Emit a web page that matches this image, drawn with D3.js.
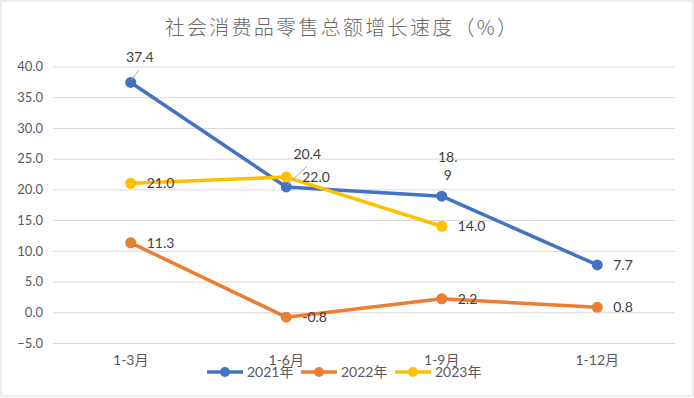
<!DOCTYPE html>
<html><head><meta charset="utf-8">
<script src="https://cdn.jsdelivr.net/npm/d3@7"></script>
<style>
html,body{margin:0;padding:0;background:#fff;}
svg{display:block;}
</style></head>
<body>
<script>
const categories = ["1-3月", "1-6月", "1-9月", "1-12月"];
const seriesNames = ["2021年", "2022年", "2023年"];
const values2021 = [37.4, 20.4, 18.9, 7.7];
const values2022 = [11.3, -0.8, 2.2, 0.8];
const values2023 = [21.0, 22.0, 14.0];
const yTicks = [-5, 0, 5, 10, 15, 20, 25, 30, 35, 40];
const title = "社会消费品零售总额增长速度（%）";

const colors = ["#4472C4", "#ED7D31", "#FFC000"];
const seriesValues = [values2021, values2022, values2023];
// label placement styles (not data): "r" = right of point, others custom
const labelPlacement = [
  ["above", "upright", "wrap", "r"],
  ["r", "r", "r", "r"],
  ["r", "r", "r"]
];

const W = 694, H = 398;
const svg = d3.select("body").append("svg").attr("width", W).attr("height", H);
const numFont = "Lato, 'Noto Sans CJK SC', sans-serif";

svg.append("rect").attr("x", 1).attr("y", 1).attr("width", W - 2).attr("height", H - 3)
  .attr("fill", "#fff").attr("stroke", "#d9d9d9").attr("stroke-width", 1);

svg.append("text").attr("x", 342).attr("y", 35).attr("text-anchor", "middle")
  .attr("font-family", "'Noto Sans CJK SC', sans-serif").attr("font-size", 20).attr("font-weight", 300)
  .attr("letter-spacing", 2.3).attr("fill", "#6b6b6b").text(title);

const x = d3.scaleBand().domain(categories).range([53, 675]);
const cx = c => x(c) + x.bandwidth() / 2;
const y = d3.scaleLinear().domain([-5, 40]).range([343, 66.5]);

// grid
const grid = svg.append("g").attr("transform", "translate(53,0)")
  .call(d3.axisLeft(y).tickValues(yTicks).tickSize(-622).tickFormat(""));
grid.select(".domain").remove();
grid.selectAll("line").attr("stroke", "#d9d9d9").attr("stroke-width", 1);

// y labels
const yAxis = svg.append("g").attr("transform", "translate(53,0)")
  .call(d3.axisLeft(y).tickValues(yTicks).tickSize(0).tickPadding(10).tickFormat(d3.format(".1f")));
yAxis.select(".domain").remove();
yAxis.selectAll("text").attr("font-family", numFont).attr("font-size", 13).attr("fill", "#595959");

// x labels
const xAxis = svg.append("g").attr("transform", "translate(0,343)")
  .call(d3.axisBottom(x).tickSize(0).tickPadding(12));
xAxis.select(".domain").remove();
xAxis.selectAll("text").attr("font-family", numFont).attr("font-size", 14).attr("fill", "#595959");

// lines
const line = d3.line().x((d, i) => cx(categories[i])).y(d => y(d));
seriesValues.forEach((vals, s) => {
  const g = svg.append("g");
  g.append("path").datum(vals).attr("d", line).attr("fill", "none")
    .attr("stroke", colors[s]).attr("stroke-width", 3.5).attr("stroke-linejoin", "round").attr("stroke-linecap", "round");
});
seriesValues.forEach((vals, s) => {
  svg.append("g").selectAll("circle").data(vals).join("circle")
    .attr("cx", (d, i) => cx(categories[i])).attr("cy", d => y(d)).attr("r", 5.5)
    .attr("fill", colors[s]);
});

// data labels
const lab = svg.append("g").attr("font-family", numFont).attr("font-size", 14).attr("fill", "#404040");
seriesValues.forEach((vals, s) => {
  vals.forEach((v, i) => {
    const px = cx(categories[i]), py = y(v);
    const txt = v.toFixed(1);
    const p = labelPlacement[s][i];
    if (p === "r") {
      lab.append("text").attr("x", px + 16).attr("y", py).attr("dy", "0.35em").text(txt);
    } else if (p === "above") {
      svg.append("line").attr("x1", px + 1).attr("y1", py - 3).attr("x2", px + 8).attr("y2", py - 12)
        .attr("stroke", "#a6a6a6").attr("stroke-width", 1);
      lab.append("text").attr("x", px + 9).attr("y", py - 25).attr("dy", "0.35em").attr("text-anchor", "middle").text(txt);
    } else if (p === "upright") {
      svg.append("line").attr("x1", px + 1).attr("y1", py - 2).attr("x2", px + 21).attr("y2", py - 21)
        .attr("stroke", "#a6a6a6").attr("stroke-width", 1);
      lab.append("text").attr("x", px + 21).attr("y", py - 33).attr("dy", "0.35em").attr("text-anchor", "middle").text(txt);
    } else if (p === "wrap") {
      const parts = [txt.slice(0, 3), txt.slice(3)];
      const t = lab.append("text").attr("text-anchor", "middle");
      t.append("tspan").attr("x", px + 6).attr("y", py - 39).attr("dy", "0.35em").text(parts[0]);
      t.append("tspan").attr("x", px + 6).attr("y", py - 21).attr("dy", "0.35em").text(parts[1]);
    }
  });
});

// legend
const legend = svg.append("g");
seriesNames.forEach((n, s) => {
  const lx = 207 + s * 94, ly = 372;
  legend.append("line").attr("x1", lx).attr("x2", lx + 36).attr("y1", ly).attr("y2", ly)
    .attr("stroke", colors[s]).attr("stroke-width", 3.5);
  legend.append("circle").attr("cx", lx + 18).attr("cy", ly).attr("r", 5).attr("fill", colors[s]);
  legend.append("text").attr("x", lx + 40).attr("y", ly).attr("dy", "0.38em")
    .attr("font-family", numFont).attr("font-size", 14).attr("fill", "#595959").text(n);
});
</script>
</body></html>
